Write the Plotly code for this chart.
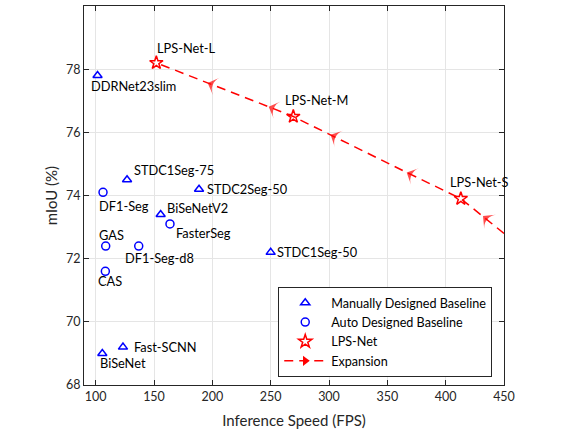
import plotly.graph_objects as pgo

# manually designed baselines (triangles)
manual_names = ['DDRNet23slim', 'STDC1Seg-75', 'STDC2Seg-50', 'BiSeNetV2',
                'STDC1Seg-50', 'Fast-SCNN', 'BiSeNet']
manual_fps = [101.6, 126.9, 188.6, 155.7, 250.0, 123.4, 105.7]
manual_miou = [77.8, 74.5, 74.2, 73.4, 72.2, 69.2, 69.0]

# auto designed baselines (circles)
auto_names = ['DF1-Seg', 'FasterSeg', 'GAS', 'DF1-Seg-d8', 'CAS']
auto_fps = [106.3, 163.7, 108.6, 136.9, 108.3]
auto_miou = [74.1, 73.1, 72.4, 72.4, 71.6]

# LPS-Net models
lps_names = ['LPS-Net-L', 'LPS-Net-M', 'LPS-Net-S']
lps_fps = [152.0, 269.4, 413.0]
lps_miou = [78.2, 76.5, 73.9]

# expansion path, ordered from the small end toward LPS-Net-L
path_fps = [450.0, 432.0, 413.0, 366.6, 301.4, 269.4, 248.3, 196.0, 152.0]
path_miou = [72.8, 73.35, 73.9, 74.73, 75.92, 76.5, 76.81, 77.56, 78.2]
path_arrow = [False, True, False, True, True, False, True, True, False]

x_ticks = [100, 150, 200, 250, 300, 350, 400, 450]
y_ticks = [68, 70, 72, 74, 76, 78, 80]

# label offsets in pixels (xshift, yshift)
label_shift = {
    'DDRNet23slim': (-9, -11), 'STDC1Seg-75': (5, 10), 'STDC2Seg-50': (6, 0),
    'BiSeNetV2': (4, 6), 'STDC1Seg-50': (4, 0), 'Fast-SCNN': (9, 0),
    'BiSeNet': (-4, -10), 'DF1-Seg': (-6, -14), 'FasterSeg': (4, -9),
    'GAS': (-9, 11), 'DF1-Seg-d8': (-16, -12), 'CAS': (-9, -10),
    'LPS-Net-L': (-1, 15), 'LPS-Net-M': (-10, 17), 'LPS-Net-S': (-13, 17),
}

BLUE = 'rgb(0,0,255)'
RED = 'rgb(255,0,0)'
FONT = 'Lato, Noto Sans, sans-serif'

fig = pgo.Figure()

fig.add_trace(pgo.Scatter(x=path_fps, y=path_miou, mode='lines+markers',
                          line=dict(color=RED, width=1.5, dash='9px,6px'),
                          marker=dict(symbol='arrow-wide', angleref='previous',
                                      color=RED, line=dict(width=0),
                                      size=[13 if a else 0 for a in path_arrow]),
                          showlegend=False, hoverinfo='skip'))

fig.add_trace(pgo.Scatter(x=manual_fps, y=manual_miou, mode='markers',
                          name='Manually Designed Baseline',
                          marker=dict(symbol='triangle-up-open', size=8,
                                      color=BLUE, line=dict(width=1.5))))
fig.add_trace(pgo.Scatter(x=auto_fps, y=auto_miou, mode='markers',
                          name='Auto Designed Baseline',
                          marker=dict(symbol='circle-open', size=8,
                                      color=BLUE, line=dict(width=1.5))))
fig.add_trace(pgo.Scatter(x=lps_fps, y=lps_miou, mode='markers',
                          name='LPS-Net',
                          marker=dict(symbol='star-open', size=10,
                                      color=RED, line=dict(width=1.5))))
# legend entry for the expansion path
fig.add_trace(pgo.Scatter(x=[None], y=[None], mode='lines+markers',
                          name='Expansion',
                          line=dict(color=RED, width=1.5, dash='9px,6px'),
                          marker=dict(symbol='triangle-right', size=9,
                                      color=RED)))

for names, xs, ys in [(manual_names, manual_fps, manual_miou),
                      (auto_names, auto_fps, auto_miou),
                      (lps_names, lps_fps, lps_miou)]:
    for n, x, y in zip(names, xs, ys):
        dx, dy = label_shift[n]
        fig.add_annotation(x=x, y=y, text=n, showarrow=False,
                           xanchor='left', yanchor='middle',
                           xshift=dx, yshift=dy,
                           font=dict(family=FONT, size=12.8, color='black'))

axis_style = dict(showgrid=True, gridcolor='#e5e5e5', gridwidth=1,
                  showline=True, linecolor='#262626', linewidth=1.2,
                  mirror='ticks', ticks='inside', ticklen=5,
                  tickcolor='#262626', zeroline=False, automargin=False,
                  tickfont=dict(family=FONT, size=12.5, color='#262626'))

fig.update_xaxes(range=[90, 450], tickvals=x_ticks,
                 title=dict(text='Inference Speed (FPS)', standoff=12,
                            font=dict(family=FONT, size=15, color='#262626')),
                 **axis_style)
fig.update_yaxes(range=[68, 80], tickvals=y_ticks,
                 title=dict(text='mIoU (%)', standoff=4,
                            font=dict(family=FONT, size=15, color='#262626')),
                 **axis_style)

fig.update_layout(width=579, height=432,
                  margin=dict(l=84, r=75, t=6, b=47),
                  plot_bgcolor='white', paper_bgcolor='white',
                  font=dict(family=FONT),
                  legend=dict(x=0.972, y=0.021, xanchor='right', yanchor='bottom',
                              bgcolor='white', bordercolor='#262626',
                              borderwidth=1, tracegroupgap=0, itemwidth=42,
                              font=dict(family=FONT, size=12.6, color='black')))

# page body has a default margin; drop it so the figure sits at the corner
fig.write_html('out.html', config={'displayModeBar': False},
               post_script="document.body.style.margin='0';")
